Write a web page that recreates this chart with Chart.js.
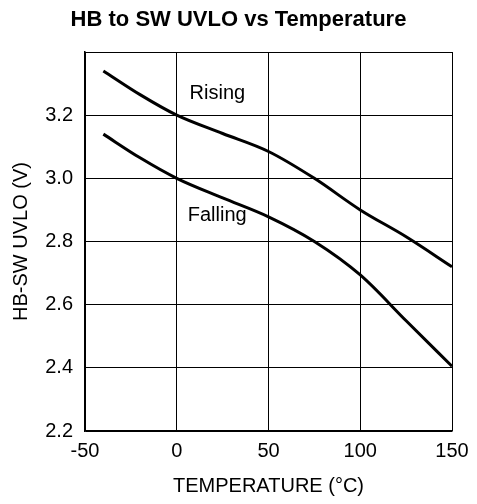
<!DOCTYPE html>
<html>
<head>
<meta charset="utf-8">
<script src="https://cdn.jsdelivr.net/npm/chart.js@4.4.7/dist/chart.umd.min.js"></script>
<style>
  html, body { margin: 0; padding: 0; background: #fff; }
  #wrap { width: 477px; height: 504px; }
</style>
</head>
<body>
<div id="wrap"><canvas id="chart" width="477" height="504"></canvas></div>
<script>
// HB to SW UVLO vs Temperature
const temps = [-40, -20, 0, 25, 50, 75, 100, 125, 150];
const rising = [3.34, 3.265, 3.20, 3.142, 3.085, 3.00, 2.90, 2.815, 2.72];
const falling = [3.14, 3.065, 3.00, 2.938, 2.878, 2.80, 2.694, 2.549, 2.405];

const xTickValues = [-50, 0, 50, 100, 150];
const yTickLabels = ['2.2', '2.4', '2.6', '2.8', '3.0', '3.2'];

// curve labels, anchored in data units (left edge, vertical middle)
const curveNames = ['Rising', 'Falling'];
const curveLabelTemps = [7, 6];
const curveLabelVolts = [3.27, 2.881];

const FONT = "'Liberation Sans', Arial, Helvetica, sans-serif";

const curveLabelPlugin = {
    id: 'curveLabels',
    afterDatasetsDraw(chart) {
        const { ctx, scales: { x, y } } = chart;
        ctx.save();
        ctx.font = `20px ${FONT}`;
        ctx.fillStyle = '#000';
        ctx.textAlign = 'left';
        ctx.textBaseline = 'middle';
        curveNames.forEach((name, i) => {
            ctx.fillText(name, x.getPixelForValue(curveLabelTemps[i]), y.getPixelForValue(curveLabelVolts[i]));
        });
        ctx.restore();
    }
};

const toPoints = vals => temps.map((t, i) => ({ x: t, y: vals[i] }));

const lineStyle = {
    borderColor: '#000',
    borderWidth: 3,
    pointRadius: 0,
    fill: false,
    cubicInterpolationMode: 'monotone'
};

new Chart(document.getElementById('chart'), {
    type: 'line',
    data: {
        datasets: [
            { label: 'Rising', data: toPoints(rising), ...lineStyle },
            { label: 'Falling', data: toPoints(falling), ...lineStyle }
        ]
    },
    options: {
        responsive: false,
        animation: false,
        layout: { padding: 0 },
        plugins: {
            legend: { display: false },
            tooltip: { enabled: false },
            title: {
                display: true,
                text: 'HB to SW UVLO vs Temperature',
                color: '#000',
                font: { family: FONT, size: 22, weight: 'bold' },
                padding: { top: 7, bottom: 18.6 }
            }
        },
        scales: {
            x: {
                type: 'linear',
                min: -50, max: 150,
                afterBuildTicks: s => { s.ticks = xTickValues.map(v => ({ value: v })); },
                afterFit: s => { s.height = 73; },
                grid: { color: '#000', lineWidth: 1, drawTicks: false },
                border: { color: '#000', width: 1.5 },
                ticks: { color: '#000', padding: 8, font: { family: FONT, size: 20 } },
                title: {
                    display: true,
                    text: 'TEMPERATURE (°C)',
                    color: '#000',
                    font: { family: FONT, size: 20 },
                    padding: { top: 0, bottom: 6 }
                }
            },
            y: {
                min: 2.2, max: 3.4,
                afterBuildTicks: s => {
                    s.ticks = yTickLabels.map(l => ({ value: parseFloat(l) })).concat([{ value: 3.4 }]);
                },
                afterFit: s => { s.width = 85; },
                grid: { color: '#000', lineWidth: 1, drawTicks: false },
                border: { color: '#000', width: 1.5 },
                ticks: {
                    color: '#000',
                    padding: 12,
                    font: { family: FONT, size: 20 },
                    callback: v => yTickLabels.find(l => Math.abs(parseFloat(l) - v) < 1e-6) || ''
                },
                title: {
                    display: true,
                    text: 'HB-SW UVLO (V)',
                    color: '#000',
                    font: { family: FONT, size: 20 },
                    padding: { top: 9, bottom: 0 }
                }
            },
            // empty right-hand axis that only reserves the right margin
            yR: {
                position: 'right',
                grid: { display: false, drawTicks: false },
                border: { display: false },
                ticks: { display: false },
                afterFit: s => { s.width = 25; }
            }
        }
    },
    plugins: [curveLabelPlugin]
});
</script>
</body>
</html>
